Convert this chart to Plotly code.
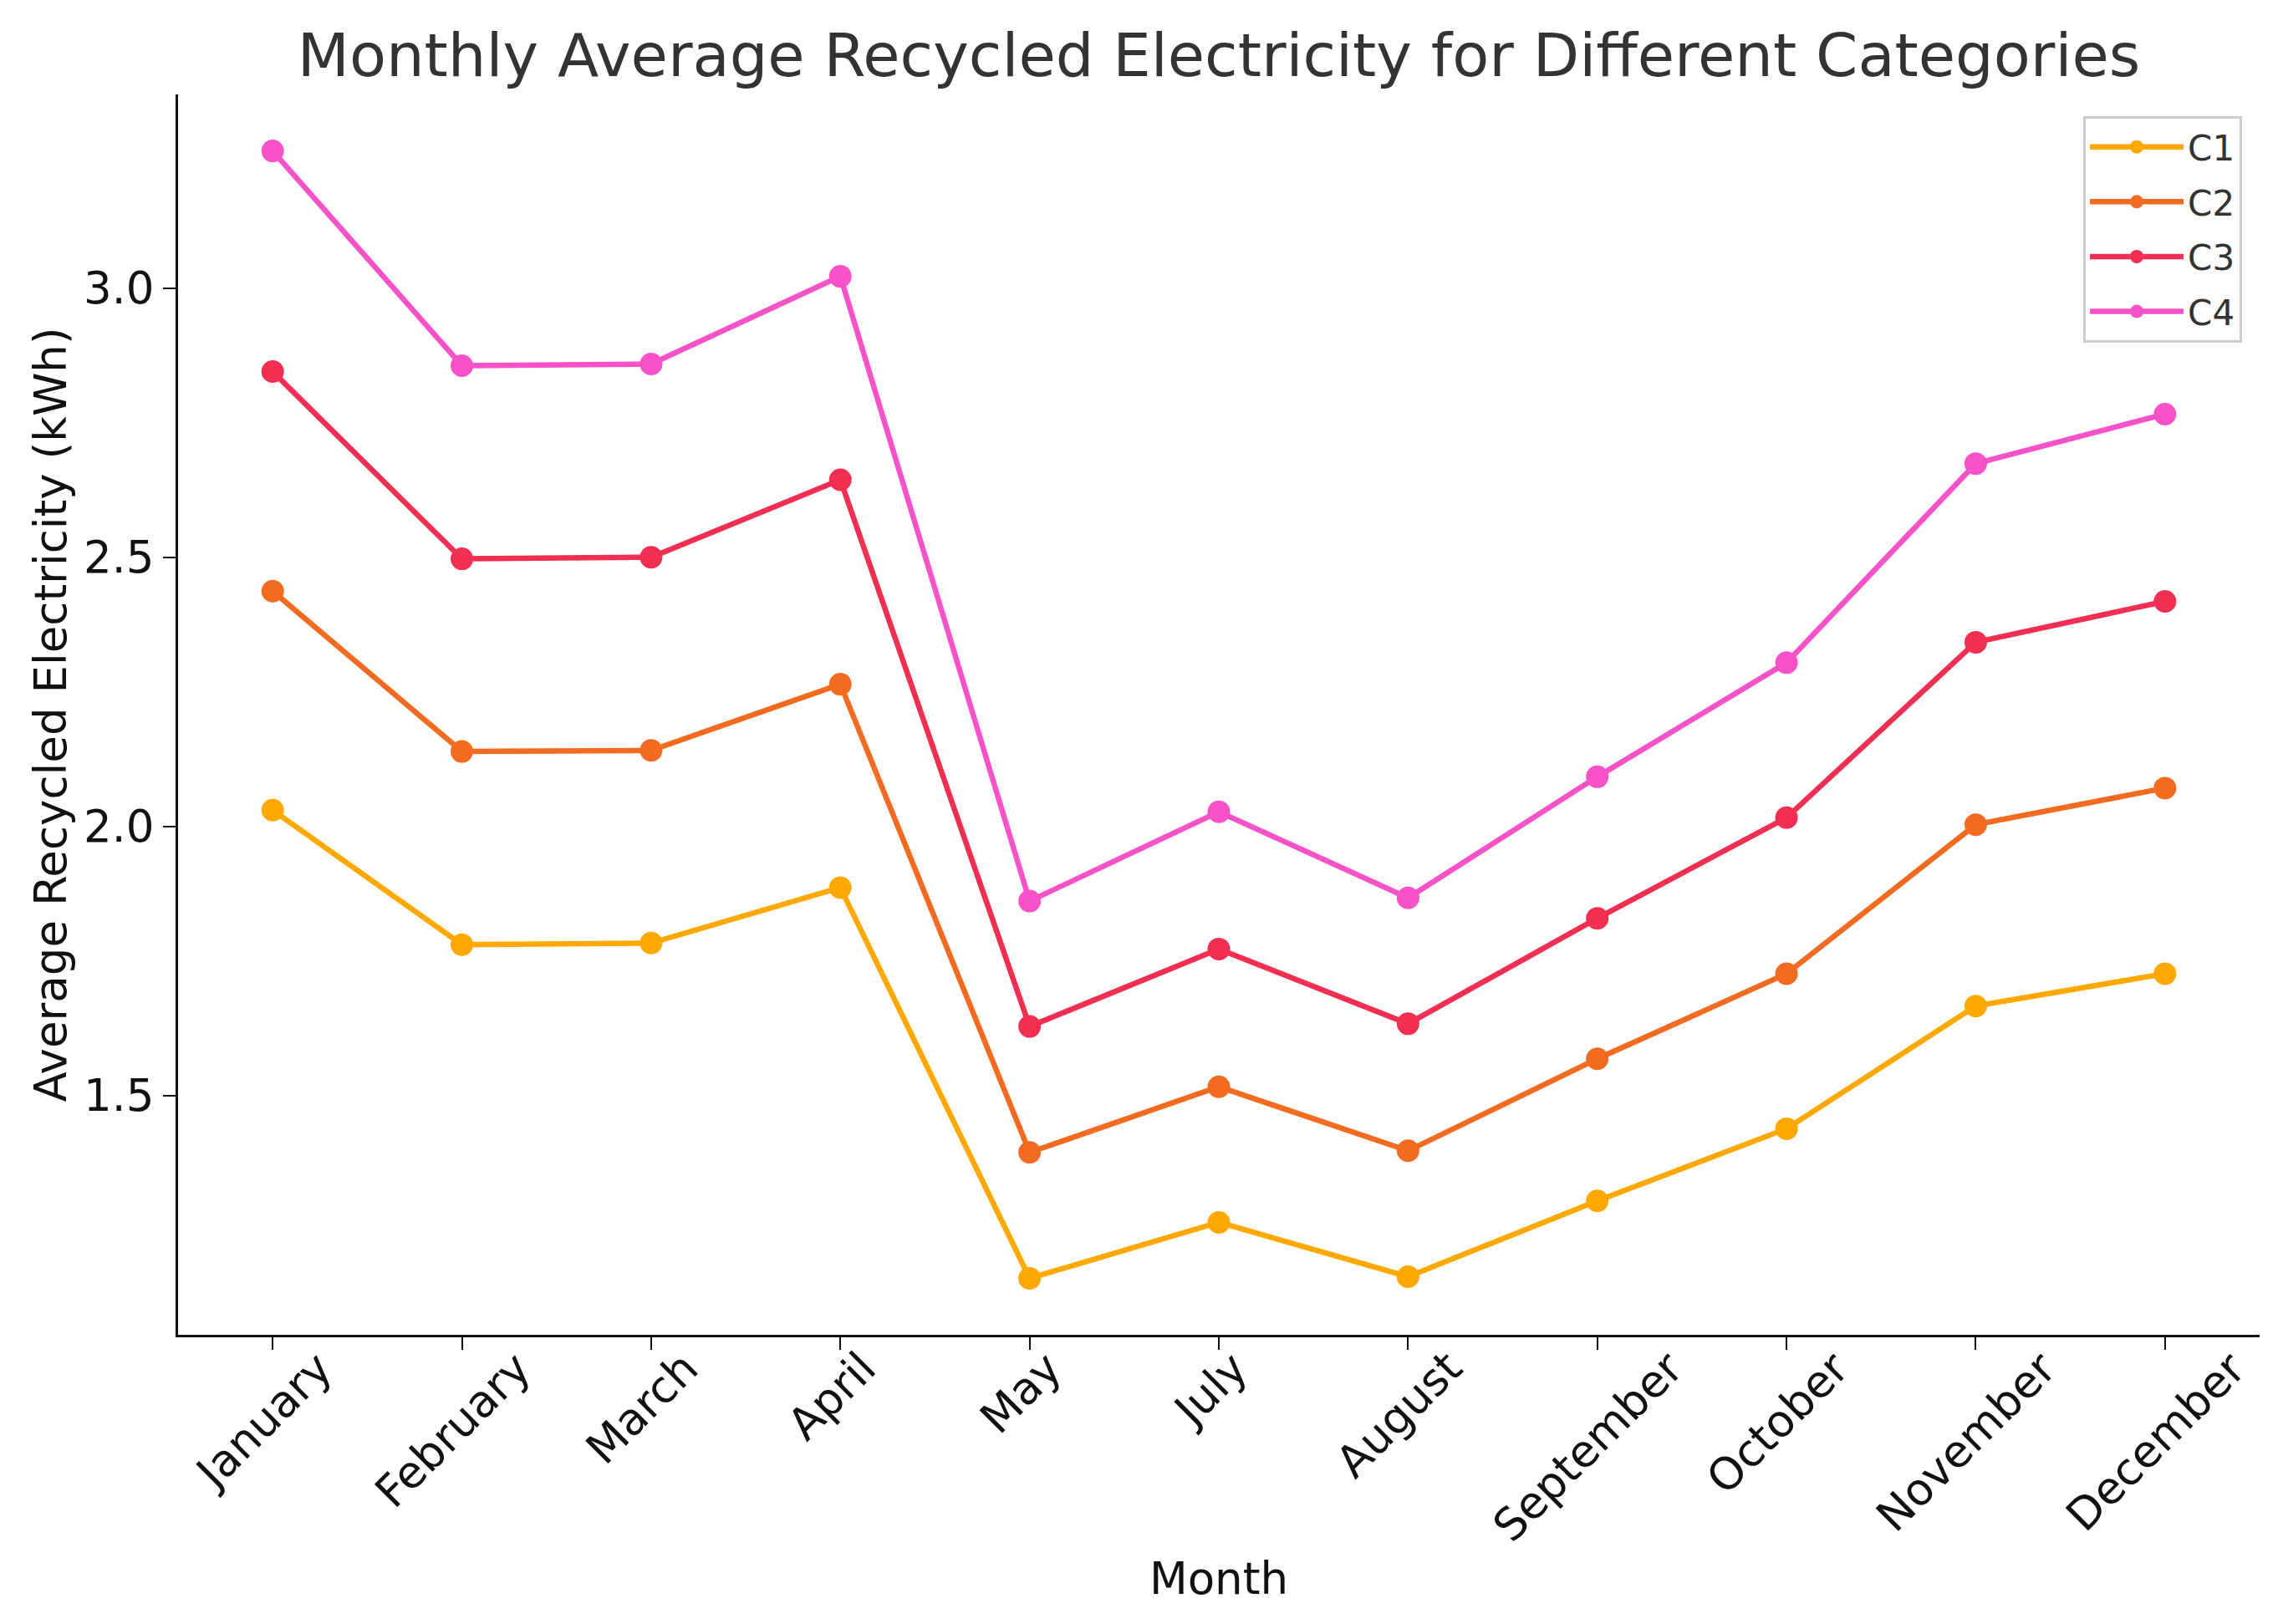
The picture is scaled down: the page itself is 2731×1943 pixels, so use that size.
import plotly.graph_objects as go

months = ["January", "February", "March", "April", "May", "July", "August",
          "September", "October", "November", "December"]
c1 = [2.030, 1.780, 1.783, 1.886, 1.160, 1.264, 1.163, 1.304, 1.438, 1.666, 1.726]
c2 = [2.437, 2.139, 2.141, 2.264, 1.394, 1.516, 1.397, 1.568, 1.726, 2.003, 2.071]
c3 = [2.845, 2.497, 2.500, 2.644, 1.628, 1.772, 1.633, 1.829, 2.016, 2.342, 2.418]
c4 = [3.255, 2.856, 2.859, 3.022, 1.861, 2.027, 1.867, 2.092, 2.304, 2.674, 2.766]
series_names = ["C1", "C2", "C3", "C4"]
series_values = [c1, c2, c3, c4]
colors = ["#FFA800", "#F26B21", "#F22F52", "#F852C8"]

title_text = "Monthly Average Recycled Electricity for Different Categories"
x_title = "Month"
y_title = "Average Recycled Electricity (kWh)"
y_ticks = [1.5, 2.0, 2.5, 3.0]

FONT = "DejaVu Sans"

fig = go.Figure()
for name, vals, col in zip(series_names, series_values, colors):
    fig.add_trace(go.Scatter(
        x=months, y=vals, name=name, legendgroup=name, mode="lines+markers",
        line=dict(color=col, width=6.5),
        marker=dict(color=col, size=27),
    ))

# rotated, centred month labels (matplotlib style)
for m in months:
    fig.add_annotation(
        x=m, xref="x", y=0, yref="paper", text=m, showarrow=False,
        textangle=-45, xanchor="center", yanchor="top",
        yshift=-6, xshift=-11,
        font=dict(family=FONT, size=53, color="#111111"),
    )

fig.update_layout(
    width=2731, height=1943,
    paper_bgcolor="white", plot_bgcolor="white",
    margin=dict(l=205, r=36, t=105, b=354),
    title=dict(text=title_text, x=0.5, xref="paper", xanchor="center",
               y=1 - 58 / 1943, yref="container", yanchor="middle",
               font=dict(family=FONT, size=72, color="#333333")),
    font=dict(family=FONT, color="#111111"),
    legend=dict(x=0.9916, y=0.9825, xanchor="right", yanchor="top",
                bgcolor="white", bordercolor="#CCCCCC", borderwidth=3,
                font=dict(family=FONT, size=42, color="#333333"),
                itemwidth=112, tracegroupgap=8),
    showlegend=True,
)

fig.update_xaxes(
    type="category", categoryorder="array", categoryarray=months,
    range=[-0.5, 10.5], showgrid=False, zeroline=False,
    showline=True, linecolor="#111111", linewidth=3,
    ticks="outside", ticklen=15, tickwidth=2, tickcolor="#111111",
    showticklabels=False,
    title=dict(text=x_title, standoff=256,
               font=dict(family=FONT, size=53, color="#111111")),
)
fig.update_yaxes(
    range=[1.055, 3.36], showgrid=False, zeroline=False,
    showline=True, linecolor="#111111", linewidth=3,
    ticks="outside", ticklen=15, tickwidth=2, tickcolor="#111111",
    tickvals=y_ticks, ticktext=[f"{v:.1f}" for v in y_ticks],
    tickfont=dict(family=FONT, size=53, color="#111111"),
    title=dict(text=y_title, standoff=4,
               font=dict(family=FONT, size=53, color="#111111")),
)

fig.write_html("out.html")
